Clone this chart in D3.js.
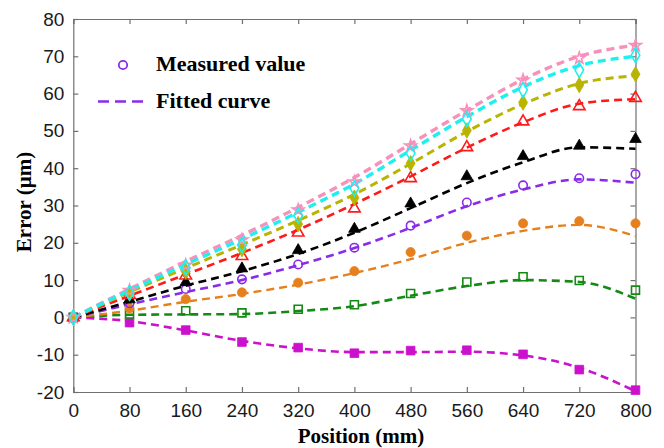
<!DOCTYPE html>
<html><head><meta charset="utf-8">
<script src="https://cdn.jsdelivr.net/npm/d3@7"></script>
<style>body{margin:0;background:#fff;}svg{display:block;}</style>
</head><body>
<svg id="chart" width="664" height="448"></svg>
<script>
const positions = [0, 80, 160, 240, 320, 400, 480, 560, 640, 720, 800];
const xTicks = [0, 80, 160, 240, 320, 400, 480, 560, 640, 720, 800];
const yTicks = [-20, -10, 0, 10, 20, 30, 40, 50, 60, 70, 80];

const seriesNames = ["magenta", "green", "orange", "purple", "black", "red", "olive", "pink", "cyan"];
const measuredMagenta = [0, -1.4, -3.4, -6.6, -8.1, -9.6, -8.9, -8.8, -9.9, -14.0, -19.5];
const fittedMagenta   = [0, -1.0, -3.5, -6.3, -8.3, -9.3, -9.3, -9.2, -10.2, -13.5, -19.8];
const measuredGreen   = [0, 0.9, 1.8, 1.2, 2.2, 3.4, 6.4, 9.5, 10.9, 9.9, 7.3];
const fittedGreen     = [0, 0.7, 0.8, 0.9, 1.7, 3.0, 5.8, 8.4, 10.0, 9.5, 5.0];
const measuredOrange  = [0, 2.4, 4.9, 6.7, 9.3, 12.4, 17.5, 21.9, 25.2, 25.8, 25.2];
const fittedOrange    = [0, 1.8, 4.2, 6.3, 8.8, 11.9, 15.6, 20.0, 23.2, 24.8, 21.8];
const measuredPurple  = [0, 3.8, 7.6, 10.2, 14.2, 18.7, 24.6, 30.8, 35.4, 37.3, 38.4];
const fittedPurple    = [0, 3.5, 6.8, 10.0, 14.0, 18.6, 24.0, 29.8, 34.3, 37.0, 36.1];
const measuredBlack   = [0, 4.8, 9.4, 13.1, 18.0, 23.7, 30.5, 37.8, 43.2, 46.0, 47.8];
const fittedBlack     = [0, 4.2, 8.5, 12.4, 17.0, 22.7, 29.3, 36.0, 41.6, 45.6, 45.2];
const measuredRed     = [0, 6.0, 11.2, 16.4, 22.7, 29.2, 37.3, 45.6, 52.5, 56.6, 58.8];
const fittedRed       = [0, 5.8, 11.5, 17.3, 23.5, 30.4, 37.8, 45.5, 52.3, 57.3, 58.5];
const measuredOlive   = [0, 6.5, 12.3, 18.3, 25.0, 32.1, 41.3, 50.1, 57.6, 62.3, 65.2];
const fittedOlive     = [0, 6.8, 13.2, 19.5, 26.0, 33.0, 41.2, 49.8, 57.2, 62.7, 64.8];
const measuredPink    = [0, 7.2, 14.0, 20.8, 28.8, 36.3, 46.0, 55.4, 63.6, 69.5, 72.9];
const fittedPink      = [0, 7.6, 15.0, 22.0, 29.5, 37.5, 46.5, 55.5, 63.8, 70.0, 73.0];
const measuredCyan    = [0, 6.6, 13.4, 19.4, 27.3, 34.6, 44.0, 53.2, 61.0, 66.3, 70.3];
const fittedCyan      = [0, 7.2, 14.2, 21.0, 28.2, 35.8, 44.8, 53.8, 61.8, 67.5, 70.0];

const measured = [measuredMagenta, measuredGreen, measuredOrange, measuredPurple, measuredBlack, measuredRed, measuredOlive, measuredPink, measuredCyan];
const fitted = [fittedMagenta, fittedGreen, fittedOrange, fittedPurple, fittedBlack, fittedRed, fittedOlive, fittedPink, fittedCyan];

const colors = {magenta:"#cc11cc", green:"#148a14", orange:"#e6801e", purple:"#8a2be8", black:"#000000", red:"#ff1a1a", olive:"#b8b400", pink:"#f890bc", cyan:"#1ef0f0"};
const markerType = {magenta:[d3.symbolSquare,75,true], green:[d3.symbolSquare,64,false], orange:[d3.symbolCircle,66,true], purple:[d3.symbolCircle,56,false], black:[d3.symbolTriangle,58,true], red:[d3.symbolTriangle,58,false], olive:[d3.symbolDiamond,70,true], pink:[d3.symbolStar,42,false], cyan:[d3.symbolDiamond,64,false]};
const lineWidth = {magenta:2.6, green:2.6, orange:2.4, purple:2.6, black:2.6, red:2.6, olive:3, pink:3.4, cyan:3.4};

const svg = d3.select("#chart");
const x = d3.scaleLinear().domain([0, 800]).range([73.3, 635.5]);
const y = d3.scaleLinear().domain([-20, 80]).range([392, 19]);
const frameColor = "#707070";
const fmt = d => String(d);

// axes
const gx = svg.append("g").attr("transform", `translate(0,${y(-20)})`)
  .call(d3.axisBottom(x).tickValues(xTicks).tickSize(-5).tickPadding(10).tickFormat(fmt));
const gxTop = svg.append("g").attr("transform", `translate(0,${y(80)})`)
  .call(d3.axisTop(x).tickValues(xTicks).tickSize(-5).tickFormat(""));
const gy = svg.append("g").attr("transform", `translate(${x(0)},0)`)
  .call(d3.axisLeft(y).tickValues(yTicks).tickSize(-5).tickPadding(9).tickFormat(fmt));
const gyR = svg.append("g").attr("transform", `translate(${x(800)},0)`)
  .call(d3.axisRight(y).tickValues(yTicks).tickSize(-5).tickFormat(""));
[gx, gxTop, gy, gyR].forEach(g => {
  g.selectAll("path,line").attr("stroke", frameColor).attr("stroke-width", 1.2);
  g.selectAll("text").attr("fill", "#1a1a1a").style("font-family", "'Liberation Sans', Arial, sans-serif").style("font-size", "19px");
});
gx.selectAll("text").attr("dy", "0.78em");

const line = d3.line().x((d, i) => x(positions[i])).y(d => y(d)).curve(d3.curveMonotoneX);

seriesNames.forEach((name, k) => {
  svg.append("path").datum(fitted[k])
    .attr("d", line).attr("fill", "none")
    .attr("stroke", colors[name]).attr("stroke-width", lineWidth[name])
    .attr("stroke-dasharray", "8,5");
});
seriesNames.forEach((name, k) => {
  const [type, size, filled] = markerType[name];
  svg.append("g").selectAll("path").data(measured[k]).join("path")
    .attr("transform", (d, i) => `translate(${x(positions[i])},${y(d)})`)
    .attr("d", d3.symbol().type(type).size(size))
    .attr("fill", filled ? colors[name] : "none")
    .attr("stroke", colors[name]).attr("stroke-width", filled ? 0.8 : 1.6);
});

// legend
svg.append("circle").attr("cx", 123).attr("cy", 65).attr("r", 4.2)
  .attr("fill", "none").attr("stroke", colors.purple).attr("stroke-width", 1.8);
svg.append("line").attr("x1", 98).attr("x2", 146).attr("y1", 101.5).attr("y2", 101.5)
  .attr("stroke", colors.purple).attr("stroke-width", 2.6).attr("stroke-dasharray", "11,6");
const serif = "'Liberation Serif', 'Times New Roman', serif";
svg.append("text").attr("x", 156).attr("y", 71).text("Measured value")
  .style("font-family", serif).style("font-weight", "bold").style("font-size", "22px").attr("fill", "#000");
svg.append("text").attr("x", 156).attr("y", 108).text("Fitted curve")
  .style("font-family", serif).style("font-weight", "bold").style("font-size", "22px").attr("fill", "#000");

// axis titles
svg.append("text").attr("x", 361).attr("y", 443).attr("text-anchor", "middle").text("Position (mm)")
  .style("font-family", serif).style("font-weight", "bold").style("font-size", "21px").attr("fill", "#000");
svg.append("text").attr("transform", "translate(31,202) rotate(-90)").attr("text-anchor", "middle").text("Error (μm)")
  .style("font-family", serif).style("font-weight", "bold").style("font-size", "21px").attr("fill", "#000");
</script>
</body></html>
